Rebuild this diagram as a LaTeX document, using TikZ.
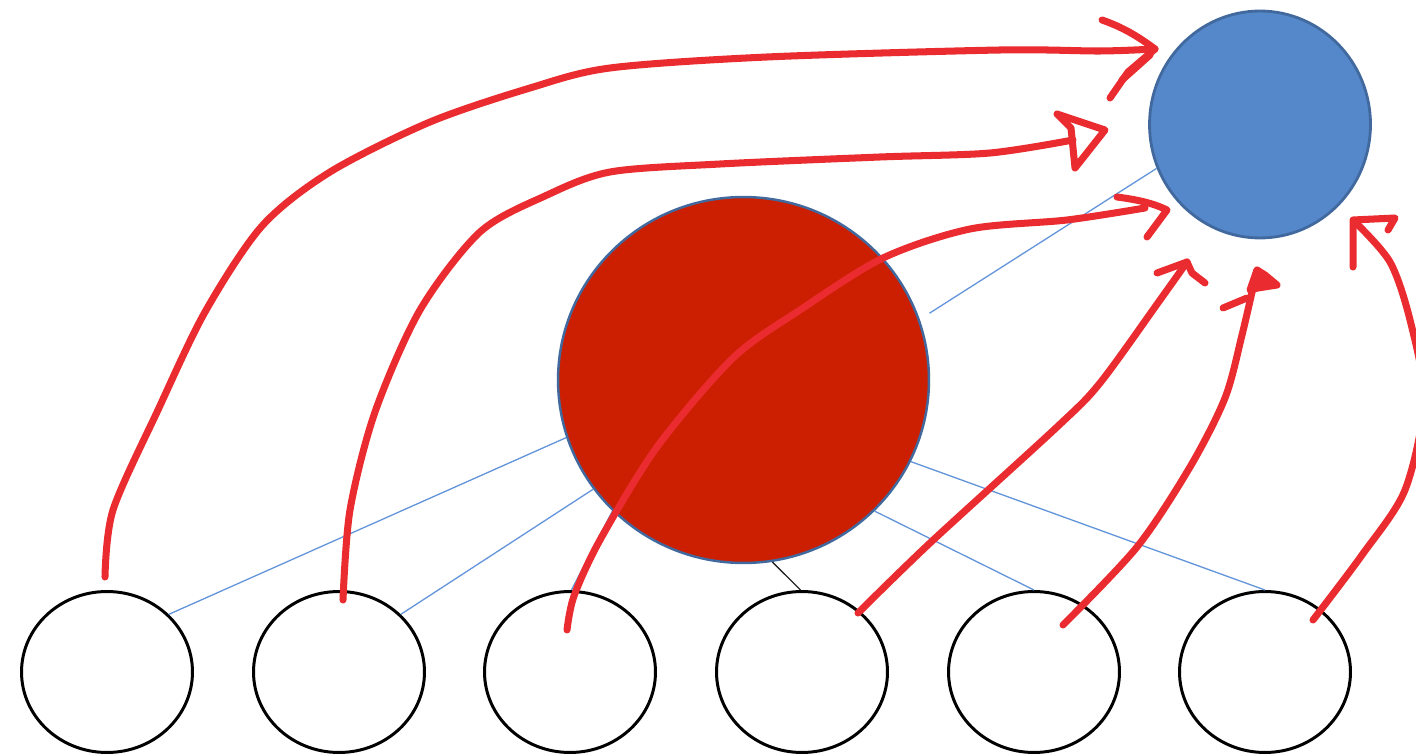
\documentclass[tikz,border=0pt]{standalone}
\usetikzlibrary{shapes.geometric,calc}
\definecolor{penred}{HTML}{EA2C30}
\definecolor{bigred}{HTML}{CC1E00}
\definecolor{bluefill}{HTML}{5587CB}
\definecolor{blueedge}{HTML}{41699E}
\definecolor{thinblue}{HTML}{6495DA}
\tikzset{
  leaf/.style={ellipse, draw=black, line width=1.7pt, fill=white, minimum width=3.42cm, minimum height=3.22cm, inner sep=0pt},
  hub/.style={ellipse, draw=blueedge, line width=1.4pt, fill=bigred, minimum width=7.42cm, minimum height=7.32cm, inner sep=0pt},
  goal/.style={ellipse, draw=blueedge, line width=1.6pt, fill=bluefill, minimum width=4.42cm, minimum height=4.54cm, inner sep=0pt},
  link/.style={draw=thinblue, line width=0.75pt},
  blacklink/.style={draw=black!85, line width=0.75pt},
  pen/.style={draw=penred, line width=4pt, line cap=round, line join=round},
}
\begin{document}
\begin{tikzpicture}[x=0.02cm, y=-0.02cm]
\useasboundingbox (0,0) rectangle (1416,756);
\node[hub] (red) at (743.5,380) {};
\node[goal] (blue) at (1260,124.5) {};
\foreach \i/\x in {1/107,2/339,3/570,4/802,5/1034,6/1265}
  \node[leaf] (e\i) at (\x,672) {};
% thin connectors
\draw[link] (red.198) -- (e1.43);
\draw[link] (red.216) -- (e2.43);
\draw[link] (red.225) -- (e3.89);
\draw[blacklink] (red.279) -- (e4.91);
\draw[link] (red.315) -- (e5.90);
\draw[link] (red.334) -- (e6.90);
\draw[link] ($(red.21)+(12,0)$) -- (blue.203);
% start and tip coordinates
\coordinate (s1) at (105,577);
\coordinate (s2) at (343,600);
\coordinate (s3) at (567,630);
\coordinate (s4) at (858,613);
\coordinate (s5) at (1063,625);
\coordinate (s6) at (1313,620);
\coordinate (t1) at (1155,49);
\coordinate (t2) at (1073,140);
\coordinate (t3) at (1145,208);
\coordinate (t4) at (1187,262);
\coordinate (t5) at (1257,270);
\coordinate (t6) at (1355,222);
% hand drawn arrows
\draw[pen] plot[smooth, tension=0.5] coordinates {(s1) (113,510) (158,410) (205,312) (262,226) (330,172) (430,122) (530,88) (610,68) (767,57) (1000,50) (1100,51) (t1)};
\draw[pen] (1102,20) .. controls (1125,28) and (1140,38) .. (t1) -- (1128,72) -- (1110,98);
\draw[pen] (1150,55) -- (1122,80);
\draw[pen] plot[smooth, tension=0.5] coordinates {(s2) (350,510) (375,412) (420,310) (480,232) (545,196) (610,172) (720,164) (880,157) (990,153) (t2)};
\draw[pen] (1057,114) -- (1105,130) -- (1075,168) -- (1071,128) -- cycle;
\draw[pen] plot[smooth, tension=0.5] coordinates {(s3) (574,596) (600,540) (657,447) (733,358) (800,310) (883,258) (970,229) (1067,220) (t3)};
\draw[pen] (1117,197) .. controls (1140,200) and (1155,204) .. (1167,210) -- (1147,237);
\draw[pen] plot[smooth, tension=0.5] coordinates {(s4) (930,543) (1057,427) (1100,383) (1160,300) (t4)};
\draw[pen] (1157,273) -- (t4) -- (1192,273) -- (1205,283);
\draw[pen] plot[smooth, tension=0.5] coordinates {(s5) (1137,547) (1190,467) (1225,398) (1242,335) (t5)};
\draw[pen] (1223,308) -- (1247,298);
\draw[pen, fill=penred] (1250,290) -- (t5) -- (1265,275) -- (1277,285) -- (1258,288) -- cycle;
\draw[pen] plot[smooth, tension=0.5] coordinates {(s6) (1362,555) (1405,490) (1424,400) (1410,320) (1390,262) (t6)};
\draw[pen] (1353,267) -- (1353,220) -- (1395,218) -- (1388,230);
\end{tikzpicture}
\end{document}
